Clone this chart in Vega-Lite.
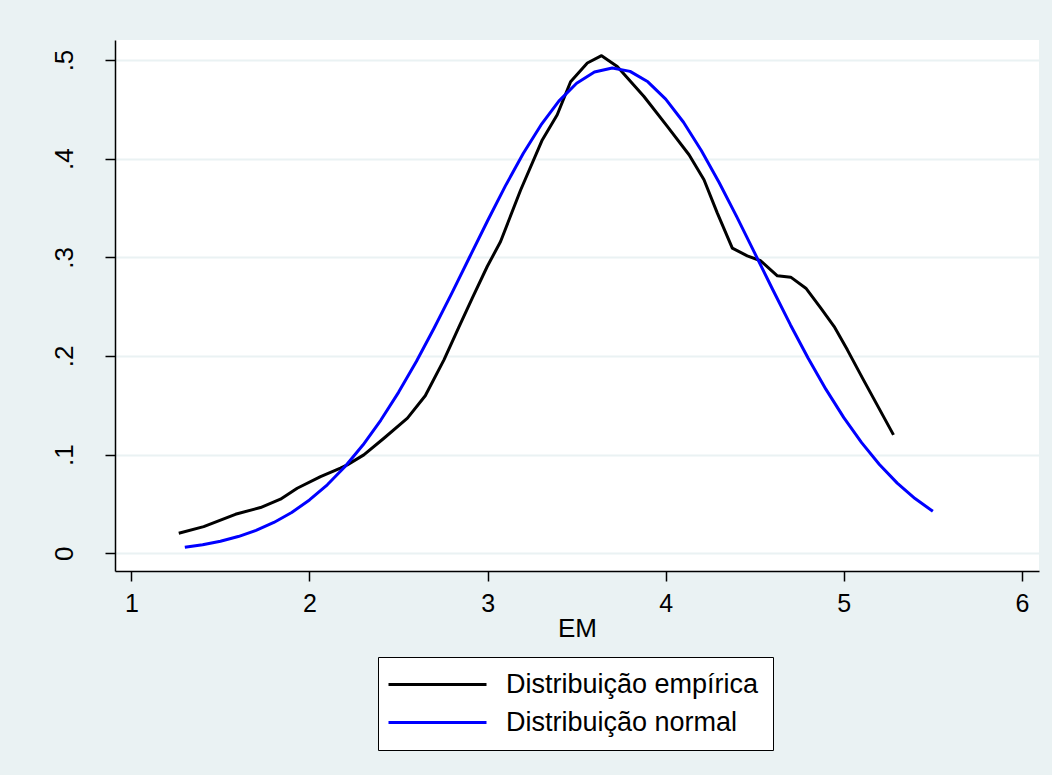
{
  "$schema": "https://vega.github.io/schema/vega-lite/v6.json",
  "width": 924,
  "height": 531,
  "autosize": "none",
  "padding": {"left": 115, "top": 40, "right": 13, "bottom": 204},
  "background": "#EAF2F3",
  "view": {"fill": "white", "stroke": null},
  "config": {
    "font": "Liberation Sans"
  },
  "data": {
    "values": [
      {"x": 1.266, "y": 0.0203, "serie": "Distribuição empírica"},
      {"x": 1.406, "y": 0.027, "serie": "Distribuição empírica"},
      {"x": 1.584, "y": 0.0395, "serie": "Distribuição empírica"},
      {"x": 1.725, "y": 0.0463, "serie": "Distribuição empírica"},
      {"x": 1.837, "y": 0.0548, "serie": "Distribuição empírica"},
      {"x": 1.931, "y": 0.0659, "serie": "Distribuição empírica"},
      {"x": 2.062, "y": 0.0777, "serie": "Distribuição empírica"},
      {"x": 2.174, "y": 0.0862, "serie": "Distribuição empírica"},
      {"x": 2.212, "y": 0.0896, "serie": "Distribuição empírica"},
      {"x": 2.305, "y": 0.0997, "serie": "Distribuição empírica"},
      {"x": 2.418, "y": 0.1166, "serie": "Distribuição empírica"},
      {"x": 2.55, "y": 0.137, "serie": "Distribuição empírica"},
      {"x": 2.65, "y": 0.1596, "serie": "Distribuição empírica"},
      {"x": 2.755, "y": 0.196, "serie": "Distribuição empírica"},
      {"x": 2.84, "y": 0.2298, "serie": "Distribuição empírica"},
      {"x": 2.914, "y": 0.2586, "serie": "Distribuição empírica"},
      {"x": 2.998, "y": 0.2907, "serie": "Distribuição empírica"},
      {"x": 3.073, "y": 0.316, "serie": "Distribuição empírica"},
      {"x": 3.185, "y": 0.368, "serie": "Distribuição empírica"},
      {"x": 3.307, "y": 0.419, "serie": "Distribuição empírica"},
      {"x": 3.391, "y": 0.4445, "serie": "Distribuição empírica"},
      {"x": 3.466, "y": 0.478, "serie": "Distribuição empírica"},
      {"x": 3.56, "y": 0.497, "serie": "Distribuição empírica"},
      {"x": 3.64, "y": 0.5044, "serie": "Distribuição empírica"},
      {"x": 3.728, "y": 0.4935, "serie": "Distribuição empírica"},
      {"x": 3.878, "y": 0.463, "serie": "Distribuição empírica"},
      {"x": 4.009, "y": 0.4327, "serie": "Distribuição empírica"},
      {"x": 4.131, "y": 0.404, "serie": "Distribuição empírica"},
      {"x": 4.215, "y": 0.3786, "serie": "Distribuição empírica"},
      {"x": 4.29, "y": 0.3448, "serie": "Distribuição empírica"},
      {"x": 4.374, "y": 0.3093, "serie": "Distribuição empírica"},
      {"x": 4.458, "y": 0.3015, "serie": "Distribuição empírica"},
      {"x": 4.533, "y": 0.2965, "serie": "Distribuição empírica"},
      {"x": 4.627, "y": 0.2812, "serie": "Distribuição empírica"},
      {"x": 4.702, "y": 0.2799, "serie": "Distribuição empírica"},
      {"x": 4.787, "y": 0.2687, "serie": "Distribuição empírica"},
      {"x": 4.871, "y": 0.2485, "serie": "Distribuição empírica"},
      {"x": 4.946, "y": 0.2298, "serie": "Distribuição empírica"},
      {"x": 5.02, "y": 0.2062, "serie": "Distribuição empírica"},
      {"x": 5.105, "y": 0.1775, "serie": "Distribuição empírica"},
      {"x": 5.279, "y": 0.12, "serie": "Distribuição empírica"},
      {"x": 1.3, "y": 0.0061, "serie": "Distribuição normal"},
      {"x": 1.4, "y": 0.0087, "serie": "Distribuição normal"},
      {"x": 1.5, "y": 0.0122, "serie": "Distribuição normal"},
      {"x": 1.6, "y": 0.0169, "serie": "Distribuição normal"},
      {"x": 1.7, "y": 0.0232, "serie": "Distribuição normal"},
      {"x": 1.8, "y": 0.0312, "serie": "Distribuição normal"},
      {"x": 1.9, "y": 0.0413, "serie": "Distribuição normal"},
      {"x": 2.0, "y": 0.054, "serie": "Distribuição normal"},
      {"x": 2.1, "y": 0.0694, "serie": "Distribuição normal"},
      {"x": 2.2, "y": 0.0879, "serie": "Distribuição normal"},
      {"x": 2.3, "y": 0.1097, "serie": "Distribuição normal"},
      {"x": 2.4, "y": 0.1348, "serie": "Distribuição normal"},
      {"x": 2.5, "y": 0.1631, "serie": "Distribuição normal"},
      {"x": 2.6, "y": 0.1944, "serie": "Distribuição normal"},
      {"x": 2.7, "y": 0.2283, "serie": "Distribuição normal"},
      {"x": 2.8, "y": 0.264, "serie": "Distribuição normal"},
      {"x": 2.9, "y": 0.3006, "serie": "Distribuição normal"},
      {"x": 3.0, "y": 0.3371, "serie": "Distribuição normal"},
      {"x": 3.1, "y": 0.3724, "serie": "Distribuição normal"},
      {"x": 3.2, "y": 0.4052, "serie": "Distribuição normal"},
      {"x": 3.3, "y": 0.4342, "serie": "Distribuição normal"},
      {"x": 3.4, "y": 0.4583, "serie": "Distribuição normal"},
      {"x": 3.5, "y": 0.4765, "serie": "Distribuição normal"},
      {"x": 3.6, "y": 0.4878, "serie": "Distribuição normal"},
      {"x": 3.7, "y": 0.4919, "serie": "Distribuição normal"},
      {"x": 3.8, "y": 0.4885, "serie": "Distribuição normal"},
      {"x": 3.9, "y": 0.4779, "serie": "Distribuição normal"},
      {"x": 4.0, "y": 0.4604, "serie": "Distribuição normal"},
      {"x": 4.1, "y": 0.4369, "serie": "Distribuição normal"},
      {"x": 4.2, "y": 0.4083, "serie": "Distribuição normal"},
      {"x": 4.3, "y": 0.3759, "serie": "Distribuição normal"},
      {"x": 4.4, "y": 0.3407, "serie": "Distribuição normal"},
      {"x": 4.5, "y": 0.3042, "serie": "Distribuição normal"},
      {"x": 4.6, "y": 0.2676, "serie": "Distribuição normal"},
      {"x": 4.7, "y": 0.2317, "serie": "Distribuição normal"},
      {"x": 4.8, "y": 0.1977, "serie": "Distribuição normal"},
      {"x": 4.9, "y": 0.1661, "serie": "Distribuição normal"},
      {"x": 5.0, "y": 0.1375, "serie": "Distribuição normal"},
      {"x": 5.1, "y": 0.1121, "serie": "Distribuição normal"},
      {"x": 5.2, "y": 0.09, "serie": "Distribuição normal"},
      {"x": 5.3, "y": 0.0711, "serie": "Distribuição normal"},
      {"x": 5.4, "y": 0.0554, "serie": "Distribuição normal"},
      {"x": 5.5, "y": 0.0425, "serie": "Distribuição normal"}
    ]
  },
  "mark": {"type": "line", "strokeWidth": 3, "strokeJoin": "round", "clip": true},
  "encoding": {
    "x": {
      "field": "x",
      "type": "quantitative",
      "scale": {"domain": [0.908, 6.096], "nice": false, "zero": false},
      "axis": {
        "title": "EM",
        "values": [1, 2, 3, 4, 5, 6],
        "grid": false,
        "domainColor": "black",
        "domainWidth": 1.5,
        "tickColor": "black",
        "tickWidth": 1.5,
        "tickSize": 10,
        "labelFontSize": 25,
        "labelColor": "black",
        "labelFont": "Liberation Sans",
        "labelPadding": 10,
        "labelFlush": false,
        "titleFontSize": 26,
        "titleFontWeight": "normal",
        "titleColor": "black",
        "titleFont": "Liberation Sans",
        "titlePadding": -1
      }
    },
    "y": {
      "field": "y",
      "type": "quantitative",
      "scale": {"domain": [-0.018, 0.5203], "nice": false, "zero": false},
      "axis": {
        "title": null,
        "values": [0, 0.1, 0.2, 0.3, 0.4, 0.5],
        "format": ".1f",
        "labelExpr": "datum.value == 0 ? '0' : replace(datum.label, '0.', '.')",
        "grid": true,
        "gridColor": "#EAF2F3",
        "gridWidth": 2,
        "domainColor": "black",
        "domainWidth": 1.5,
        "tickColor": "black",
        "tickWidth": 1.5,
        "tickSize": 10,
        "labelAngle": -90,
        "labelAlign": "center",
        "labelBaseline": "bottom",
        "labelFontSize": 26,
        "labelColor": "black",
        "labelFont": "Liberation Sans",
        "labelPadding": 28,
        "labelFlush": false
      }
    },
    "color": {
      "field": "serie",
      "type": "nominal",
      "scale": {
        "domain": ["Distribuição empírica", "Distribuição normal"],
        "range": ["#000000", "#0000FF"]
      },
      "legend": {
        "title": null,
        "orient": "none",
        "legendX": 263,
        "legendY": 617,
        "direction": "vertical",
        "fillColor": "white",
        "strokeColor": "black",
        "padding": 14,
        "rowPadding": 10,
        "symbolType": "M-1.7,0H8.1",
        "symbolSize": 400,
        "symbolStrokeWidth": 3,
        "labelFontSize": 27,
        "labelFont": "Liberation Sans",
        "labelColor": "black",
        "labelOffset": 87,
        "labelLimit": 400
      }
    }
  }
}
